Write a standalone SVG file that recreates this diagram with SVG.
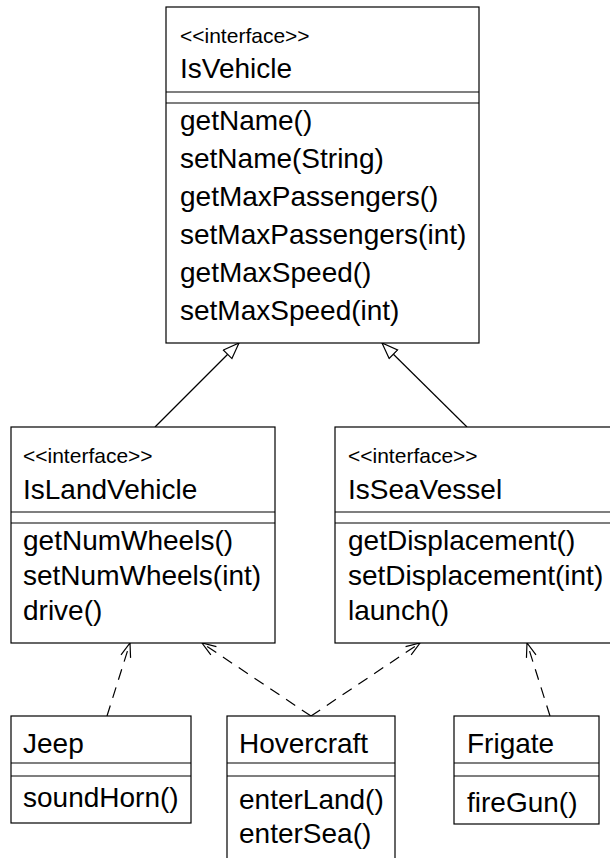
<svg xmlns="http://www.w3.org/2000/svg" width="610" height="858" viewBox="0 0 610 858">
<style>
.box{fill:#fff;stroke:#000;stroke-width:1.2}
.sep{stroke:#000;stroke-width:1.2}
.t{font-family:"Liberation Sans",Arial,sans-serif;font-size:28px;fill:#000}
.st{font-family:"Liberation Sans",Arial,sans-serif;font-size:21px;fill:#000}
.gen{stroke:#000;stroke-width:1.2;fill:none}
.real{stroke:#000;stroke-width:1.2;fill:none;stroke-dasharray:11,8}
</style>
<defs>
<marker id="tri" markerUnits="userSpaceOnUse" markerWidth="20" markerHeight="16" refX="17" refY="7" orient="auto">
<path d="M1,1 L17,7 L1,13 Z" fill="#fff" stroke="#000" stroke-width="1.2"/>
</marker>
<marker id="open" markerUnits="userSpaceOnUse" markerWidth="18" markerHeight="14" refX="15" refY="6" orient="auto">
<path d="M1,1 L15,6 L1,11" fill="none" stroke="#000" stroke-width="1.2"/>
</marker>
</defs>
<g id="connectors">
<line class="gen" x1="155" y1="427" x2="239" y2="343" marker-end="url(#tri)"/>
<line class="gen" x1="467" y1="427" x2="382" y2="343" marker-end="url(#tri)"/>
<line class="real" x1="107" y1="716" x2="130" y2="643" marker-end="url(#open)"/>
<line class="real" x1="311" y1="716" x2="202" y2="643" marker-end="url(#open)"/>
<line class="real" x1="311" y1="716" x2="420" y2="643" marker-end="url(#open)"/>
<line class="real" x1="550" y1="716" x2="527" y2="643" marker-end="url(#open)"/>
</g>
<g id="IsVehicle">
<rect class="box" x="166" y="7" width="313" height="336"/>
<line class="sep" x1="166" y1="92" x2="479" y2="92"/>
<line class="sep" x1="166" y1="103" x2="479" y2="103"/>
<text class="st" x="180" y="43">&lt;&lt;interface&gt;&gt;</text>
<text class="t" x="180" y="78">IsVehicle</text>
<text class="t" x="180" y="130">getName()</text>
<text class="t" x="180" y="168">setName(String)</text>
<text class="t" x="180" y="206">getMaxPassengers()</text>
<text class="t" x="180" y="244">setMaxPassengers(int)</text>
<text class="t" x="180" y="282">getMaxSpeed()</text>
<text class="t" x="180" y="320">setMaxSpeed(int)</text>
</g>
<g id="IsLandVehicle">
<rect class="box" x="11" y="427" width="264" height="216"/>
<line class="sep" x1="11" y1="512" x2="275" y2="512"/>
<line class="sep" x1="11" y1="523" x2="275" y2="523"/>
<text class="st" x="23" y="463">&lt;&lt;interface&gt;&gt;</text>
<text class="t" x="23" y="499">IsLandVehicle</text>
<text class="t" x="23" y="550">getNumWheels()</text>
<text class="t" x="23" y="585">setNumWheels(int)</text>
<text class="t" x="23" y="620">drive()</text>
</g>
<g id="IsSeaVessel">
<rect class="box" x="335" y="427" width="290" height="216"/>
<line class="sep" x1="335" y1="512" x2="625" y2="512"/>
<line class="sep" x1="335" y1="523" x2="625" y2="523"/>
<text class="st" x="348" y="463">&lt;&lt;interface&gt;&gt;</text>
<text class="t" x="348" y="499">IsSeaVessel</text>
<text class="t" x="348" y="550">getDisplacement()</text>
<text class="t" x="348" y="585">setDisplacement(int)</text>
<text class="t" x="348" y="620">launch()</text>
</g>
<g id="Jeep">
<rect class="box" x="11" y="716" width="180" height="107"/>
<line class="sep" x1="11" y1="763" x2="191" y2="763"/>
<line class="sep" x1="11" y1="776" x2="191" y2="776"/>
<text class="t" x="23" y="753">Jeep</text>
<text class="t" x="23" y="807">soundHorn()</text>
</g>
<g id="Hovercraft">
<rect class="box" x="227" y="716" width="168" height="160"/>
<line class="sep" x1="227" y1="763" x2="395" y2="763"/>
<line class="sep" x1="227" y1="776" x2="395" y2="776"/>
<text class="t" x="239" y="753">Hovercraft</text>
<text class="t" x="239" y="809">enterLand()</text>
<text class="t" x="239" y="843">enterSea()</text>
</g>
<g id="Frigate">
<rect class="box" x="454" y="716" width="145" height="108"/>
<line class="sep" x1="454" y1="763" x2="599" y2="763"/>
<line class="sep" x1="454" y1="776" x2="599" y2="776"/>
<text class="t" x="467" y="753">Frigate</text>
<text class="t" x="467" y="812">fireGun()</text>
</g>
</svg>
